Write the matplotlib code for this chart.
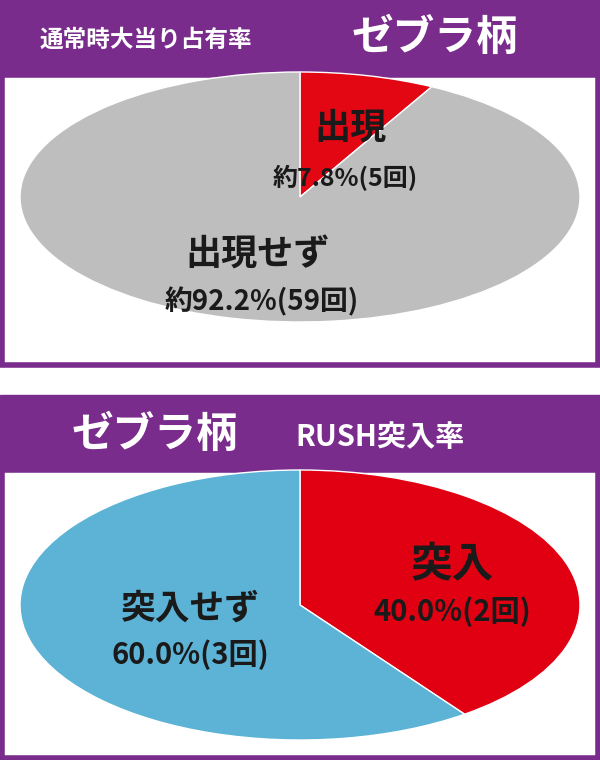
import matplotlib
matplotlib.use("Agg")
import matplotlib.pyplot as plt
from matplotlib.patches import Rectangle

plt.rcParams['font.family'] = ['Noto Sans CJK JP', 'DejaVu Sans']

top_labels = ["出現", "出現せず"]
top_values = [7.8, 92.2]
top_counts = [5, 59]
bot_labels = ["突入", "突入せず"]
bot_values = [40.0, 60.0]
bot_counts = [2, 3]

PURPLE = "#7A2C8C"
W, H = 600, 760
fig = plt.figure(figsize=(6, 7.6), dpi=100)

def fx(px): return px / W
def fy(py): return 1 - py / H

def rect(x0, y0, x1, y1, **kw):
    fig.patches.append(Rectangle((fx(x0), fy(y1)), fx(x1) - fx(x0), (y1 - y0) / H,
                                 transform=fig.transFigure, zorder=-5, **kw))

rect(0, 0, 600, 75, color=PURPLE)
rect(2, 75, 598, 365, facecolor="white", edgecolor=PURPLE, linewidth=4)
rect(0, 395, 600, 470, color=PURPLE)
rect(2, 470, 598, 758, facecolor="white", edgecolor=PURPLE, linewidth=4)

fig.text(fx(40), fy(40), "通常時大当り占有率", color="white", fontsize=17, fontweight="bold", va="center")
fig.text(fx(352), fy(38), "ゼブラ柄", color="white", fontsize=30, fontweight="bold", va="center")
fig.text(fx(72), fy(435), "ゼブラ柄", color="white", fontsize=30, fontweight="bold", va="center")
fig.text(fx(295), fy(437), "RUSH突入率", color="white", fontsize=21, fontweight="bold", va="center")

def pie(ax_box, values, colors):
    x0, y0, x1, y1 = ax_box
    ax = fig.add_axes([fx(x0), fy(y1), fx(x1) - fx(x0), (y1 - y0) / H])
    ax.pie(values, colors=colors, startangle=90, counterclock=False,
           wedgeprops=dict(edgecolor="white", linewidth=1))
    ax.set_aspect('auto')
    ax.set_xlim(-1, 1); ax.set_ylim(-1, 1)
    ax.axis('off')
    return ax

pie((20, 72, 580, 322), top_values, ["#E30613", "#BEBEBE"])
pie((20, 470, 580, 740), bot_values, ["#E00012", "#5CB3D6"])

kw = dict(fontweight="bold", ha="center", va="center", color="#1a1a1a")
fig.text(fx(350), fy(128), top_labels[0], fontsize=26, **kw)
fig.text(fx(345), fy(178), f"約{top_values[0]}%({top_counts[0]}回)", fontsize=18, **kw)
fig.text(fx(258), fy(255), top_labels[1], fontsize=26, **kw)
fig.text(fx(262), fy(302), f"約{top_values[1]}%({top_counts[1]}回)", fontsize=20, **kw)

fig.text(fx(452), fy(565), bot_labels[0], fontsize=30, **kw)
fig.text(fx(452), fy(612), f"{bot_values[0]:.1f}%({bot_counts[0]}回)", fontsize=21, **kw)
fig.text(fx(190), fy(608), bot_labels[1], fontsize=25, **kw)
fig.text(fx(190), fy(655), f"{bot_values[1]:.1f}%({bot_counts[1]}回)", fontsize=21, **kw)

fig.savefig("out.png", dpi=100)
